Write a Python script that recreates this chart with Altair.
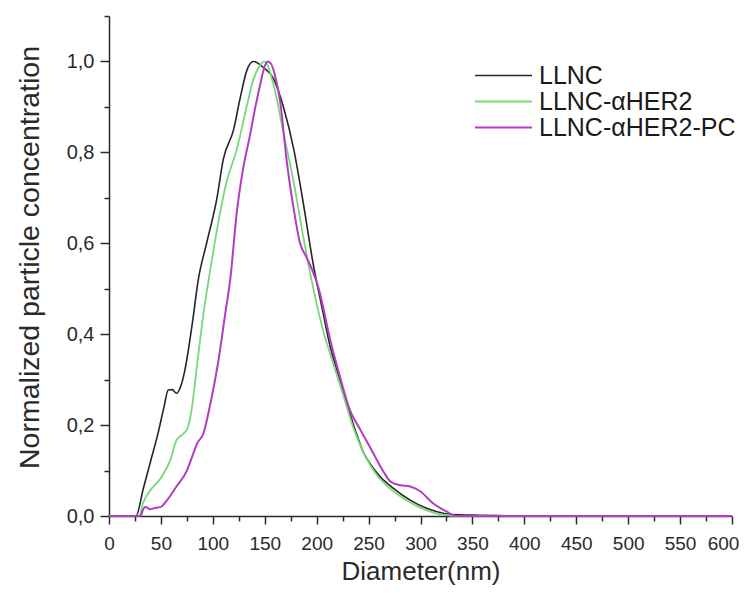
import altair as alt
import pandas as pd

series_names = ["LLNC", "LLNC-αHER2", "LLNC-αHER2-PC"]
series_colors = ["#262626", "#78d878", "#b43cc4"]

llnc_x = [0, 26, 33, 40, 47, 53, 57, 61, 65, 69, 73, 80, 86, 94, 104, 110, 120, 126, 133, 139,
          149, 158, 168, 178, 187, 197, 205, 213, 221, 229, 237, 245, 253, 261, 274, 290, 306,
          322, 330, 350, 375, 390, 600]
llnc_y = [0, 0, 0.06, 0.12, 0.18, 0.24, 0.277, 0.278, 0.27, 0.285, 0.32, 0.42, 0.52, 0.60, 0.70,
          0.784, 0.85, 0.916, 0.982, 1.0, 0.986, 0.964, 0.90, 0.806, 0.69, 0.55, 0.46, 0.373, 0.31,
          0.248, 0.19, 0.14, 0.11, 0.087, 0.061, 0.035, 0.017, 0.006, 0.003, 0.002, 0.001, 0, 0]

her2_x = [0, 29, 33, 40, 51, 59, 65, 70, 75, 79, 85, 91, 96, 104, 113, 123, 133, 139, 145, 150,
          158, 168, 178, 187, 195, 206, 216, 226, 236, 246, 258, 270, 285, 300, 315, 330, 340, 600]
her2_y = [0, 0, 0.03, 0.057, 0.087, 0.123, 0.167, 0.178, 0.19, 0.226, 0.336, 0.446, 0.52, 0.63,
          0.733, 0.806, 0.905, 0.96, 0.99, 1.0, 0.953, 0.843, 0.733, 0.615, 0.52, 0.41, 0.335,
          0.263, 0.19, 0.135, 0.09, 0.062, 0.037, 0.018, 0.006, 0.001, 0, 0]

pc_x = [0, 30, 33, 35, 40, 45, 50, 56, 65, 75, 80, 85, 91, 97, 105, 112, 117, 123, 129, 136, 141,
        146, 150, 153, 156, 160, 165, 171, 178, 184, 190, 196, 202, 213, 222, 232, 242, 251, 258,
        265, 271, 280, 290, 300, 312, 325, 335, 600]
pc_y = [0, 0, 0.015, 0.02, 0.015, 0.018, 0.02, 0.035, 0.065, 0.10, 0.13, 0.16, 0.182, 0.24, 0.336,
        0.446, 0.525, 0.667, 0.762, 0.84, 0.90, 0.953, 0.99, 1.0, 0.995, 0.968, 0.909, 0.784,
        0.674, 0.60, 0.57, 0.54, 0.50, 0.388, 0.31, 0.233, 0.19, 0.153, 0.123, 0.095, 0.076,
        0.068, 0.065, 0.054, 0.028, 0.01, 0, 0]

x_ticks = [0, 25, 50, 75, 100, 125, 150, 175, 200, 225, 250, 275, 300, 325, 350, 375, 400,
           425, 450, 475, 500, 525, 550, 575, 600]
y_ticks = [0.0, 0.1, 0.2, 0.3, 0.4, 0.5, 0.6, 0.7, 0.8, 0.9, 1.0, 1.1]

rows = []
for i, (name, xs, ys) in enumerate(zip(series_names, [llnc_x, her2_x, pc_x], [llnc_y, her2_y, pc_y])):
    for x, y in zip(xs, ys):
        rows.append({"d": x, "v": y, "s": name, "o": i})
df = pd.DataFrame(rows)

FONT = "Liberation Sans"
AX = "#2a2a2a"

x_major_test = "datum.value % 50 === 0"
y_major_test = "round(datum.value * 10) % 2 === 0"

chart = alt.Chart(df).mark_line(interpolate="monotone").encode(
    x=alt.X("d:Q", scale=alt.Scale(domain=[0, 600], nice=False, zero=False), axis=alt.Axis(
        values=x_ticks, title="Diameter(nm)", grid=False,
        tickSize={"condition": {"test": x_major_test, "value": 8}, "value": 5},
        tickWidth=1.5, domainWidth=1.5, domainColor=AX, tickColor=AX, labelColor=AX,
        titleColor=AX, labelFont=FONT, labelFontSize=19, labelPadding=10, labelFlush=False,
        labelOverlap=False,
        labelOffset={"condition": {"test": "datum.value === 600", "value": -9}, "value": 0},
        labelExpr="datum.value % 50 === 0 ? format(datum.value, 'd') : ''",
        titleFont=FONT, titleFontSize=26, titleFontWeight="normal", titleBaseline="middle",
        titleY=55)),
    y=alt.Y("v:Q", scale=alt.Scale(domain=[0, 1.1], nice=False), axis=alt.Axis(
        values=y_ticks, title="Normalized particle concentration", grid=False,
        tickSize={"condition": {"test": y_major_test, "value": 9}, "value": 5},
        tickWidth=1.5, domainWidth=1.5, domainColor=AX, tickColor=AX, labelColor=AX,
        titleColor=AX, labelFont=FONT, labelFontSize=20, labelPadding=6, labelOverlap=False,
        labelExpr="round(datum.value * 10) % 2 === 0 ? replace(format(datum.value, '.1f'), '.', ',') : ''",
        titleFont=FONT, titleFontSize=28.5, titleFontWeight="normal", titleBaseline="middle",
        titleAlign="center", titleX=-80, titleY=241)),
    color=alt.Color("s:N", scale=alt.Scale(domain=series_names, range=series_colors),
                    legend=alt.Legend(title=None, orient="none", legendX=382, legendY=47,
                                      symbolType="M-5,0H5", symbolSize=130, symbolStrokeWidth=2,
                                      labelFont=FONT, labelFontSize=25, labelColor="#1a1a1a",
                                      labelOffset=23, labelLimit=400, rowPadding=0)),
    strokeWidth=alt.StrokeWidth("s:N", scale=alt.Scale(domain=series_names, range=[1.6, 2, 2]),
                                legend=None),
    order=alt.Order("o:Q"),
).properties(
    width=623, height=500,
    padding={"left": 101, "top": 8, "right": 7, "bottom": 69},
    autosize=alt.AutoSizeParams(type="none"),
    background="white",
).configure_view(stroke=None)

chart.save("out.html", embed_options={"renderer": "svg", "actions": False})
